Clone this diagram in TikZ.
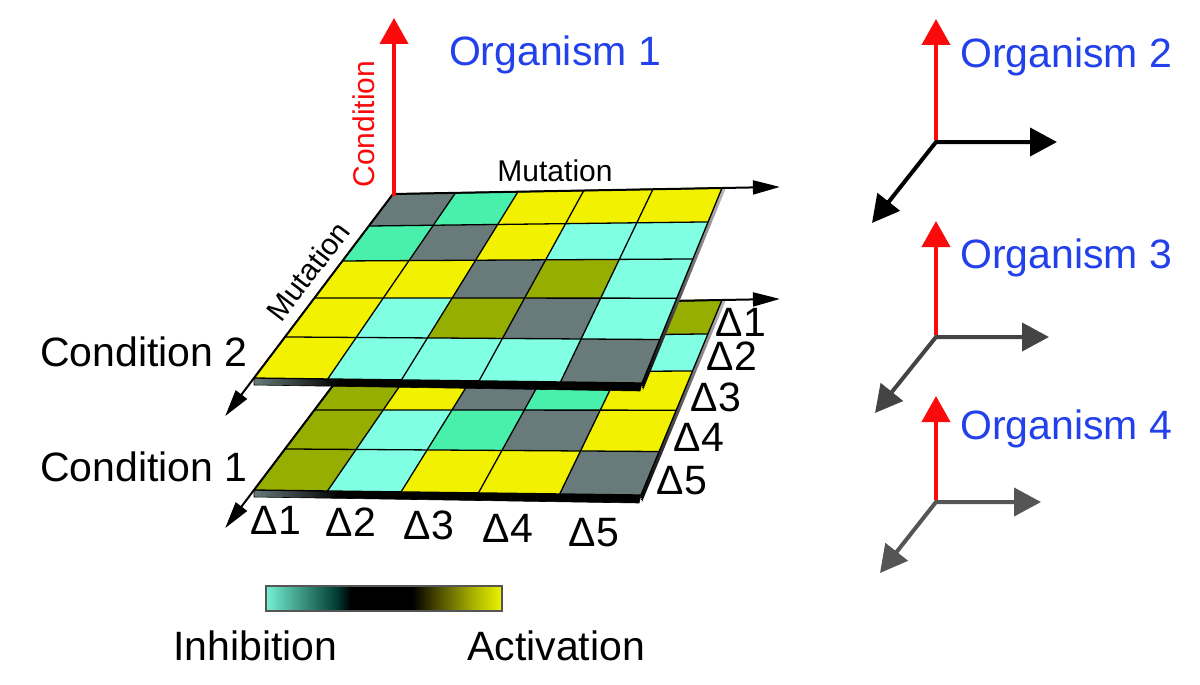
\documentclass[tikz,border=0pt]{standalone}
\usepackage{fontspec}
\setmainfont{Liberation Sans}
\usetikzlibrary{calc,arrows.meta}
\definecolor{slate}{RGB}{104,122,122}
\definecolor{cyanL}{RGB}{128,255,226}
\definecolor{aqua}{RGB}{72,240,172}
\definecolor{yel}{RGB}{242,242,0}
\definecolor{olive}{RGB}{150,174,0}
\definecolor{orgblue}{RGB}{35,65,235}
\definecolor{axred}{RGB}{250,10,10}
\definecolor{cbA}{RGB}{118,240,212}
\definecolor{cbA2}{RGB}{60,150,130}
\definecolor{cbB}{RGB}{0,60,50}
\definecolor{cbC}{RGB}{70,70,0}
\definecolor{cbD}{RGB}{170,180,0}
\definecolor{cbY}{RGB}{235,245,0}
\definecolor{gr3}{RGB}{68,68,68}
\definecolor{gr4}{RGB}{85,85,85}
\pgfdeclarehorizontalshading{cbar}{100bp}{color(0bp)=(cbA); color(25bp)=(cbA); color(32.5bp)=(cbA2); color(40bp)=(cbB); color(43bp)=(black); color(56bp)=(black); color(61bp)=(cbC); color(69bp)=(cbD); color(75bp)=(cbY); color(100bp)=(cbY)}
\pgfdeclarehorizontalshading{bandsh}{100bp}{color(0bp)=(slate); color(25bp)=(slate); color(36bp)=(black); color(100bp)=(black)}
\def\RF{{0,0.174,0.364,0.565,0.777,1}}
\def\CF{{0,0.19,0.38,0.58,0.79,1}}
\newcommand\mkgrid[2]{%
  \foreach \jx in {0,...,5}{
    \pgfmathsetmacro\myS{\CF[\jx]}
    \coordinate (#1U\jx) at ($(#1TL)!\myS!(#1TR)$);
    \coordinate (#1D\jx) at ($(#1BL)!\myS!(#1BR)$);
  }
  \foreach \ix in {0,...,5}{
    \pgfmathsetmacro\myT{\RF[\ix]}
    \foreach \jx in {0,...,5}{
      \coordinate (#1G\ix-\jx) at ($(#1U\jx)!\myT!(#1D\jx)$);
    }
  }
  \shade[top color=gray!55, bottom color=black] (#1TR) -- ($(#1TR)+(3.5,1)$) -- ($(#1BR)+(1,7)$) -- (#1BR) -- cycle;
  \shade[shading=bandsh, draw=black, line width=0.6pt] (#1BL) -- (#1BR) -- ($(#1BR)+(-2,8)$) -- ($(#1BL)+(0,7)$) -- cycle;
  \foreach \cl [count=\kx from 0] in {#2}{
    \pgfmathtruncatemacro\ii{\kx/5}
    \pgfmathtruncatemacro\jj{mod(\kx,5)}
    \pgfmathtruncatemacro\iii{\ii+1}
    \pgfmathtruncatemacro\jjj{\jj+1}
    \fill[\cl] (#1G\ii-\jj) -- (#1G\ii-\jjj) -- (#1G\iii-\jjj) -- (#1G\iii-\jj) -- cycle;
  }
  \foreach \ix in {0,...,5}{ \draw[gridline] (#1G\ix-0) -- (#1G\ix-5); }
  \foreach \jx in {0,...,5}{ \draw[gridline] (#1G0-\jx) -- (#1G5-\jx); }
  \coordinate (#1tipR) at ($(#1TL)!1.176!(#1TR)$);
  \coordinate (#1tipL) at ($(#1TL)!1.207!(#1BL)$);
  \draw[gridax] (#1TL) -- (#1tipR);
  \draw[gridax] (#1TL) -- (#1tipL);
}
\begin{document}
\begin{tikzpicture}[x=1pt,y=-1pt,
  gridline/.style={black, line width=1.3pt},
  gridax/.style={black, line width=2pt, -{Triangle[length=27pt,width=14pt]}},
  redax/.style={axred, line width=4pt, -{Triangle[length=26pt,width=28pt]}},
  orgax/.style={line width=4pt, {Triangle[length=27pt,width=28pt]}-{Triangle[length=27pt,width=28pt]}},
  big/.style={font=\fontsize{41}{46}\selectfont, inner sep=0pt},
  mid/.style={font=\fontsize{41}{44}\selectfont, inner sep=0pt},
  small/.style={font=\fontsize{30}{34}\selectfont, inner sep=0pt}]
\useasboundingbox (0,0) rectangle (1200,685);
\fill[white] (0,0) rectangle (1200,685);
% lower grid (Condition 1)
\coordinate (BTL) at (393,306);
\coordinate (BTR) at (722,300);
\coordinate (BBR) at (641,495);
\coordinate (BBL) at (254,490);
\mkgrid{B}{yel,cyanL,slate,yel,olive,cyanL,yel,olive,slate,cyanL,olive,yel,slate,aqua,yel,olive,cyanL,aqua,slate,yel,olive,cyanL,yel,yel,slate}
% upper grid (Condition 2)
\coordinate (ATL) at (393,194);
\coordinate (ATR) at (722,188);
\coordinate (ABR) at (642,383);
\coordinate (ABL) at (254,378);
\mkgrid{A}{slate,aqua,yel,yel,yel,aqua,slate,yel,cyanL,cyanL,yel,yel,slate,olive,cyanL,yel,cyanL,olive,slate,cyanL,yel,cyanL,cyanL,cyanL,slate}
% condition axis
\coordinate (redtip) at (394,18);
\draw[redax] (394,196) -- (redtip);
\node[small, text=axred, rotate=90] (condlab) at (364,124) {Condition};
\node[big, text=orgblue, anchor=base] (org1) at (555,66) {Organism 1};
\node[small, anchor=base] (mutT) at (555,181) {Mutation};
\node[small, rotate=52.7] (mutL) at (308,271) {Mutation};
\node[big, anchor=base west] (c2) at (40,366) {Condition 2};
\node[big, anchor=base west] (c1) at (40,481) {Condition 1};
% delta labels bottom
\node[mid, anchor=base] (b1) at (276,534) {Δ1};
\node[mid, anchor=base] (b2) at (351,536) {Δ2};
\node[mid, anchor=base] (b3) at (429,539) {Δ3};
\node[mid, anchor=base] (b4) at (508,542) {Δ4};
\node[mid, anchor=base] (b5) at (594,546) {Δ5};
% delta labels right
\node[mid, anchor=base] (r1) at (741,336) {Δ1};
\node[mid, anchor=base] (r2) at (732,370) {Δ2};
\node[mid, anchor=base] (r3) at (716,411) {Δ3};
\node[mid, anchor=base] (r4) at (699,451) {Δ4};
\node[mid, anchor=base] (r5) at (682,494) {Δ5};
% colour bar
\shade[shading=cbar, draw=gr4, line width=2pt] (266,586) rectangle (502,611);
\node[big, anchor=base west] (inh) at (173,660) {Inhibition};
\node[big, anchor=base west] (act) at (467,660) {Activation};
% organism 2
\coordinate (o2) at (936,142);
\coordinate (o2u) at (936,19);
\coordinate (o2r) at (1057,142);
\coordinate (o2d) at (872,223);
\draw[orgax, black] (o2d) -- (o2) -- (o2r);
\draw[redax] ($(o2)+(0,-2)$) -- (o2u);
\node[big, text=orgblue, anchor=base west] (org2) at (960,68) {Organism 2};
% organism 3
\coordinate (o3) at (936,337);
\coordinate (o3u) at (936,221);
\coordinate (o3r) at (1049,337);
\coordinate (o3d) at (875,413);
\draw[orgax, gr3] (o3d) -- (o3) -- (o3r);
\draw[redax] ($(o3)+(0,-2)$) -- (o3u);
\node[big, text=orgblue, anchor=base west] (org3) at (960,268) {Organism 3};
% organism 4
\coordinate (o4) at (936,502);
\coordinate (o4u) at (936,396);
\coordinate (o4r) at (1041,502);
\coordinate (o4d) at (880,573);
\draw[orgax, gr4] (o4d) -- (o4) -- (o4r);
\draw[redax] ($(o4)+(0,-2)$) -- (o4u);
\node[big, text=orgblue, anchor=base west] (org4) at (960,439) {Organism 4};
\end{tikzpicture}
\end{document}
